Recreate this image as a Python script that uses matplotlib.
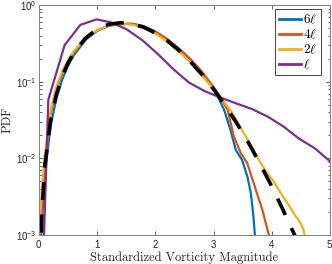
import numpy as np
import matplotlib
matplotlib.use("Agg")
import matplotlib.pyplot as plt
from matplotlib.font_manager import FontProperties
from matplotlib.ticker import LogLocator, NullFormatter

# ---------------- data ----------------
x_6l = [0.03, 0.1, 0.2, 0.3, 0.4, 0.5, 0.6, 0.8, 1.0, 1.2, 1.4, 1.6, 1.8, 2.0, 2.2,
        2.4, 2.6, 2.8, 3.0, 3.1, 3.18, 3.29, 3.38, 3.49, 3.58, 3.64, 3.68, 3.71, 3.73]
y_6l = [0.0008, 0.0062, 0.027, 0.061, 0.107, 0.162, 0.222, 0.35, 0.46, 0.535, 0.565,
        0.57, 0.53, 0.45, 0.36, 0.272, 0.196, 0.133, 0.078, 0.058, 0.043, 0.0235,
        0.0129, 0.0095, 0.0058, 0.0035, 0.0019, 0.001, 0.0006]

x_4l = [0.03, 0.1, 0.2, 0.3, 0.4, 0.5, 0.6, 0.8, 1.0, 1.2, 1.4, 1.6, 1.8, 2.0, 2.2,
        2.4, 2.6, 2.8, 3.0, 3.1, 3.24, 3.35, 3.47, 3.58, 3.69, 3.78, 3.84, 3.9, 3.95, 3.97]
y_4l = [0.0012, 0.0085, 0.038, 0.079, 0.128, 0.183, 0.242, 0.365, 0.47, 0.54, 0.565,
        0.565, 0.525, 0.45, 0.36, 0.272, 0.197, 0.135, 0.085, 0.066, 0.043, 0.019,
        0.0116, 0.0086, 0.0047, 0.0029, 0.0021, 0.0014, 0.001, 0.0008]

x_2l = [0.0, 0.05, 0.1, 0.2, 0.3, 0.4, 0.5, 0.6, 0.8, 1.0, 1.2, 1.4, 1.6, 1.8, 2.0,
        2.2, 2.4, 2.6, 2.8, 3.0, 3.2, 3.3, 3.4, 3.5, 3.6, 3.7, 3.8, 3.9, 4.0, 4.1,
        4.2, 4.3, 4.4, 4.48, 4.54, 4.58, 4.6]
y_2l = [0.0009, 0.0042, 0.011, 0.043, 0.087, 0.137, 0.192, 0.252, 0.37, 0.47, 0.54,
        0.565, 0.555, 0.505, 0.425, 0.335, 0.25, 0.178, 0.12, 0.08, 0.052, 0.041,
        0.031, 0.0225, 0.0168, 0.0124, 0.0089, 0.0068, 0.0054, 0.0041, 0.0031,
        0.0024, 0.0018, 0.0015, 0.0012, 0.0009, 0.0007]

x_1l = [0.07, 0.16, 0.44, 0.71, 0.99, 1.25, 1.51, 1.78, 2.04, 2.31, 2.58, 2.85, 3.12,
        3.39, 3.66, 3.93, 4.20, 4.47, 4.74, 5.01]
y_1l = [0.0004, 0.058, 0.30, 0.55, 0.65, 0.59, 0.48, 0.345, 0.23, 0.145, 0.097, 0.075,
        0.062, 0.052, 0.044, 0.035, 0.026, 0.018, 0.0135, 0.009]

x_ref = [0.02, 0.05, 0.1, 0.2, 0.3, 0.4, 0.5, 0.6, 0.8, 1.0, 1.2, 1.4, 1.6, 1.8, 2.0,
         2.2, 2.4, 2.6, 2.8, 3.0, 3.2, 3.4, 3.6, 3.8, 4.0, 4.2, 4.4, 4.5]
y_ref = [0.0003, 0.002, 0.0079, 0.0313, 0.0687, 0.118, 0.176, 0.240, 0.371, 0.484,
         0.559, 0.587, 0.568, 0.512, 0.432, 0.343, 0.258, 0.183, 0.124, 0.0798,
         0.0488, 0.0285, 0.0159, 0.0084, 0.0043, 0.00207, 0.00097, 0.00066]

labels = [r"$6\ell$", r"$4\ell$", r"$2\ell$", r"$\ell$"]
colors = ["#0072BD", "#D95319", "#EDB120", "#7E2F8E"]

xlabel = "Standardized Vorticity Magnitude"
ylabel = "PDF"

# ---------------- figure ----------------
plt.rcParams['font.family'] = ['Liberation Sans', 'DejaVu Sans']
plt.rcParams['axes.formatter.use_mathtext'] = True

W, H = 332, 264
fig = plt.figure(figsize=(W / 100, H / 100), dpi=100)
ax = fig.add_axes([39 / W, 1 - 235 / H, (330 - 39) / W, (235 - 5) / H])

series = [(x_6l, y_6l), (x_4l, y_4l), (x_2l, y_2l), (x_1l, y_1l)]
for (xs, ys), lab, c in zip(series, labels, colors):
    ax.plot(xs, ys, color=c, lw=1.6, label=lab, solid_joinstyle='round')
ax.plot(x_ref, y_ref, color='black', lw=2.6, dashes=(5.0, 4.0), dash_capstyle='butt')

ax.set_yscale('log')
ax.set_xlim(0, 5)
ax.set_ylim(1e-3, 1)
ax.set_xticks([0, 1, 2, 3, 4, 5])
ax.yaxis.set_major_locator(LogLocator(base=10, numticks=10))
ax.yaxis.set_minor_locator(LogLocator(base=10, subs=np.arange(2, 10), numticks=20))
ax.yaxis.set_minor_formatter(NullFormatter())

ax.tick_params(which='both', direction='in', top=True, right=True,
               labelsize=7, colors='#262626', width=0.5)
ax.tick_params(which='major', length=3)
ax.tick_params(which='minor', length=1.8)
ax.tick_params(axis='x', pad=2)
ax.tick_params(axis='y', pad=2)
for sp in ax.spines.values():
    sp.set_color('#808080')
    sp.set_linewidth(0.7)

ax.set_xlabel(xlabel, family='cmr10', fontsize=9, labelpad=1, color='#262626')
ax.set_ylabel(ylabel, family='cmr10', fontsize=9, labelpad=1.5, color='#262626')

leg_prop = FontProperties(size=9.5, math_fontfamily='cm')
leg = ax.legend(loc='upper right', prop=leg_prop, handlelength=1.65, handletextpad=0.15,
                borderpad=0.3, labelspacing=0.12, borderaxespad=0.0, fancybox=False,
                framealpha=1, edgecolor='#262626', bbox_to_anchor=(0.969, 0.983))
leg.get_frame().set_linewidth(0.6)
for h in leg.get_lines():
    h.set_linewidth(2.0)

fig.savefig("out.png", dpi=100)
